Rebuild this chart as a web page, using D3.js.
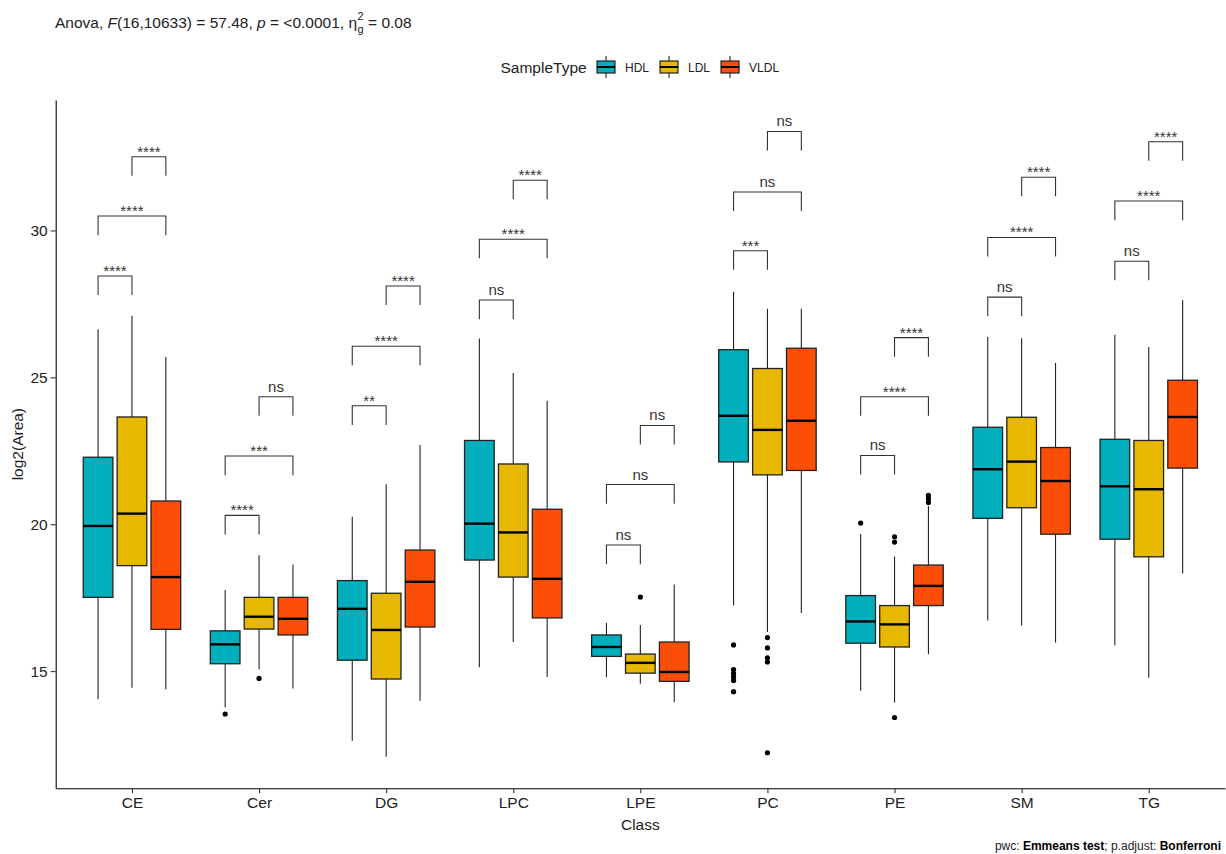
<!DOCTYPE html>
<html>
<head>
<meta charset="utf-8">
<script src="https://cdn.jsdelivr.net/npm/d3@7"></script>
<style>
  html, body { margin: 0; padding: 0; background: #fff; }
  svg { display: block; font-family: "Liberation Sans", Arial, sans-serif; }
</style>
</head>
<body>
<svg id="chart" width="1226" height="854"></svg>
<script>
// ---------------- DATA ----------------
const classes = ["CE", "Cer", "DG", "LPC", "LPE", "PC", "PE", "SM", "TG"];
const sampleTypes = ["HDL", "LDL", "VLDL"];
const fillColors = ["#00AFBB", "#E7B800", "#FC4E07"];
const yTicks = [15, 20, 25, 30];

// [lower whisker, Q1, median, Q3, upper whisker] per class
const hdlBoxes = [
  [14.04, 17.51, 19.94, 22.28, 26.64],
  [13.77, 15.25, 15.91, 16.37, 17.76],
  [12.63, 15.37, 17.12, 18.08, 20.25],
  [15.13, 18.78, 20.02, 22.85, 26.32],
  [14.79, 15.50, 15.82, 16.23, 16.64],
  [17.23, 22.12, 23.69, 25.94, 27.91],
  [14.33, 15.95, 16.69, 17.57, 19.67],
  [16.72, 20.20, 21.87, 23.30, 26.37],
  [15.88, 19.49, 21.29, 22.89, 26.45]
];
const ldlBoxes = [
  [14.43, 18.59, 20.36, 23.65, 27.10],
  [15.06, 16.43, 16.85, 17.51, 18.94],
  [12.08, 14.73, 16.40, 17.65, 21.36],
  [15.99, 18.20, 19.72, 22.05, 25.15],
  [14.57, 14.93, 15.28, 15.58, 16.57],
  [16.33, 21.68, 23.21, 25.30, 27.33],
  [13.93, 15.82, 16.59, 17.23, 18.90],
  [16.55, 20.56, 22.13, 23.64, 26.33],
  [14.77, 18.89, 21.19, 22.85, 26.03]
];
const vldlBoxes = [
  [14.38, 16.42, 18.20, 20.79, 25.69],
  [14.41, 16.23, 16.78, 17.51, 18.63],
  [13.99, 16.50, 18.04, 19.12, 22.70],
  [14.80, 16.81, 18.14, 20.51, 24.20],
  [13.94, 14.65, 14.97, 15.99, 17.95],
  [16.98, 21.83, 23.52, 25.99, 27.33],
  [15.57, 17.23, 17.90, 18.61, 20.62],
  [15.97, 19.66, 21.47, 22.61, 25.49],
  [18.32, 21.91, 23.65, 24.90, 27.62]
];

// outliers per class
const hdlOutliers = [[], [13.54], [], [], [], [15.89, 15.05, 14.92, 14.80, 14.68, 14.30], [20.04], [], []];
const ldlOutliers = [[], [14.75], [], [], [17.52], [16.14, 15.79, 15.45, 15.31, 12.22], [19.57, 19.39, 13.42], [], []];
const vldlOutliers = [[], [], [], [], [], [], [20.98, 20.87, 20.74], [], []];

// pairwise comparison brackets
const bracketPairs = [["HDL", "LDL"], ["HDL", "VLDL"], ["LDL", "VLDL"]];
const bracketY = [
  [28.45, 30.49, 32.51],
  [20.30, 22.32, 24.34],
  [24.03, 26.06, 28.11],
  [27.63, 29.70, 31.71],
  [19.29, 21.35, 23.36],
  [29.31, 31.31, 33.37],
  [22.34, 24.34, 26.35],
  [27.73, 29.76, 31.81],
  [28.95, 31.00, 33.02]
];
const bracketLabels = [
  ["****", "****", "****"],
  ["****", "***", "ns"],
  ["**", "****", "****"],
  ["ns", "****", "****"],
  ["ns", "ns", "ns"],
  ["***", "ns", "ns"],
  ["ns", "****", "****"],
  ["ns", "****", "****"],
  ["ns", "****", "****"]
];
const bracketTip = 0.65; // data units

// ---------------- CHART ----------------
const svg = d3.select("#chart");
const panel = { left: 55.7, right: 1225, top: 100, bottom: 788.3 };

const x = d3.scalePoint().domain(classes).range([panel.left, panel.right]).padding(0.6);
const y = d3.scaleLinear().domain([11.01, 34.44]).range([panel.bottom, panel.top]);
const color = d3.scaleOrdinal().domain(sampleTypes).range(fillColors);

const step = x.step();
const dodge = step * 0.8 / 3;
const boxW = step * 0.7 / 3;
const offset = t => (sampleTypes.indexOf(t) - 1) * dodge;

const boxesByType = { HDL: hdlBoxes, LDL: ldlBoxes, VLDL: vldlBoxes };
const outliersByType = { HDL: hdlOutliers, LDL: ldlOutliers, VLDL: vldlOutliers };

const boxData = [];
const outlierData = [];
classes.forEach((c, i) => {
  sampleTypes.forEach(t => {
    const s = boxesByType[t][i];
    boxData.push({ cls: c, type: t, lo: s[0], q1: s[1], med: s[2], q3: s[3], hi: s[4] });
    outliersByType[t][i].forEach(v => outlierData.push({ cls: c, type: t, v }));
  });
});

// axes
const yAxis = svg.append("g")
  .attr("transform", `translate(${panel.left},0)`)
  .call(d3.axisLeft(y).tickValues(yTicks).tickSize(5).tickSizeOuter(0).tickPadding(3));
const xAxis = svg.append("g")
  .attr("transform", `translate(0,${panel.bottom})`)
  .call(d3.axisBottom(x).tickSize(5).tickSizeOuter(0).tickPadding(4));
[yAxis, xAxis].forEach(a => {
  a.select(".domain").attr("stroke", "#000").attr("stroke-width", 1.1);
  a.selectAll(".tick line").attr("stroke", "#333").attr("stroke-width", 1.1);
  a.selectAll(".tick text").attr("fill", "#222").style("font-size", "15.5px")
    .style("font-family", "'Liberation Sans', Arial, sans-serif");
});

// boxplots
const g = svg.append("g");
const bx = d => x(d.cls) + offset(d.type);

g.selectAll("line.whisker").data(boxData).join("line")
  .attr("class", "whisker")
  .attr("x1", bx).attr("x2", bx)
  .attr("y1", d => y(d.lo)).attr("y2", d => y(d.hi))
  .attr("stroke", "#222").attr("stroke-width", 1.1);

g.selectAll("rect.box").data(boxData).join("rect")
  .attr("class", "box")
  .attr("x", d => bx(d) - boxW / 2).attr("width", boxW)
  .attr("y", d => y(d.q3)).attr("height", d => y(d.q1) - y(d.q3))
  .attr("fill", d => color(d.type))
  .attr("stroke", "#222").attr("stroke-width", 1.3);

g.selectAll("line.median").data(boxData).join("line")
  .attr("class", "median")
  .attr("x1", d => bx(d) - boxW / 2).attr("x2", d => bx(d) + boxW / 2)
  .attr("y1", d => y(d.med)).attr("y2", d => y(d.med))
  .attr("stroke", "#000").attr("stroke-width", 2.4);

g.selectAll("circle.out").data(outlierData).join("circle")
  .attr("class", "out")
  .attr("cx", d => x(d.cls) + offset(d.type)).attr("cy", d => y(d.v))
  .attr("r", 2.6).attr("fill", "#000");

// brackets
const brData = [];
classes.forEach((c, i) => {
  bracketPairs.forEach((p, j) => {
    brData.push({ cls: c, a: p[0], b: p[1], yv: bracketY[i][j], label: bracketLabels[i][j] });
  });
});
const br = svg.append("g");
br.selectAll("path.br").data(brData).join("path")
  .attr("class", "br")
  .attr("d", d => {
    const x1 = x(d.cls) + offset(d.a), x2 = x(d.cls) + offset(d.b);
    const yt = y(d.yv), yb = y(d.yv - bracketTip);
    return `M${x1},${yb}V${yt}H${x2}V${yb}`;
  })
  .attr("fill", "none").attr("stroke", "#333").attr("stroke-width", 1.1);
br.selectAll("text.lab").data(brData).join("text")
  .attr("class", "lab")
  .attr("x", d => (x(d.cls) + offset(d.a) + x(d.cls) + offset(d.b)) / 2)
  .attr("y", d => y(d.yv) - (d.label === "ns" ? 5 : 0))
  .attr("text-anchor", "middle")
  .attr("fill", "#333")
  .style("font-size", "15px")
  .text(d => d.label);

// axis titles
svg.append("text").attr("x", (panel.left + panel.right) / 2).attr("y", 830)
  .attr("text-anchor", "middle").attr("fill", "#222").style("font-size", "15.5px").text("Class");
svg.append("text").attr("transform", `translate(23,${(panel.top + panel.bottom) / 2}) rotate(-90)`)
  .attr("text-anchor", "middle").attr("fill", "#222").style("font-size", "15.5px").text("log2(Area)");

// title
const title = svg.append("text").attr("x", 55).attr("y", 28).attr("fill", "#222").style("font-size", "15.5px");
title.append("tspan").text("Anova, ");
title.append("tspan").style("font-style", "italic").text("F");
title.append("tspan").text("(16,10633) = 57.48, ");
title.append("tspan").style("font-style", "italic").text("p");
title.append("tspan").text(" = <0.0001, \u03B7");
const tEnd = 55 + title.node().getComputedTextLength();
svg.append("text").attr("x", tEnd + 0.5).attr("y", 20).attr("fill", "#222").style("font-size", "11px").text("2");
svg.append("text").attr("x", tEnd + 0.5).attr("y", 33).attr("fill", "#222").style("font-size", "11px").text("g");
svg.append("text").attr("x", tEnd + 11).attr("y", 28).attr("fill", "#222").style("font-size", "15.5px").text("= 0.08");

// legend
const lg = svg.append("g");
lg.append("text").attr("x", 500.5).attr("y", 72.5).attr("fill", "#222").style("font-size", "15.5px").text("SampleType");
let lx = 597;
sampleTypes.forEach(t => {
  const kg = lg.append("g");
  kg.append("line").attr("x1", lx + 9).attr("x2", lx + 9).attr("y1", 56).attr("y2", 78)
    .attr("stroke", "#222").attr("stroke-width", 1.1);
  kg.append("rect").attr("x", lx).attr("y", 61).attr("width", 18).attr("height", 12)
    .attr("fill", color(t)).attr("stroke", "#222").attr("stroke-width", 1.2);
  kg.append("line").attr("x1", lx).attr("x2", lx + 18).attr("y1", 67).attr("y2", 67)
    .attr("stroke", "#000").attr("stroke-width", 2);
  const lt = lg.append("text").attr("x", lx + 28).attr("y", 71.5).attr("fill", "#222")
    .style("font-size", "12px").text(t);
  lx = lx + 28 + lt.node().getComputedTextLength() + 11;
});

// caption
const cap = svg.append("text").attr("x", 1221).attr("y", 850).attr("text-anchor", "end")
  .attr("fill", "#222").style("font-size", "12px");
cap.append("tspan").text("pwc: ");
cap.append("tspan").style("font-weight", "bold").attr("fill", "#000").text("Emmeans test");
cap.append("tspan").text("; p.adjust: ");
cap.append("tspan").style("font-weight", "bold").attr("fill", "#000").text("Bonferroni");
</script>
</body>
</html>
